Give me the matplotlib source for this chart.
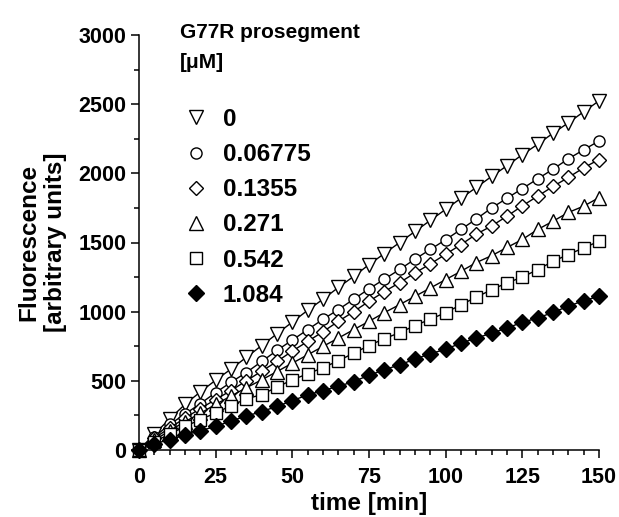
import matplotlib
matplotlib.use("Agg")
import matplotlib.pyplot as plt
from matplotlib.lines import Line2D
from matplotlib.ticker import MultipleLocator

plt.rcParams['font.family'] = ['Liberation Sans', 'DejaVu Sans']
plt.rcParams['font.weight'] = 'bold'

time_min = [0, 5, 10, 15, 20, 25, 30, 35, 40, 45, 50, 55, 60, 65, 70, 75,
            80, 85, 90, 95, 100, 105, 110, 115, 120, 125, 130, 135, 140, 145, 150]

conc_0 = [0, 115, 225, 330, 420, 505, 585, 670, 755, 840, 925, 1010, 1090, 1175, 1255, 1340,
          1420, 1500, 1580, 1660, 1740, 1820, 1898, 1978, 2055, 2135, 2210, 2290, 2365, 2445, 2524]
conc_006775 = [0, 95, 185, 260, 335, 415, 490, 560, 640, 720, 795, 870, 945, 1015, 1090, 1165,
               1235, 1305, 1380, 1450, 1520, 1595, 1670, 1750, 1820, 1890, 1960, 2030, 2105, 2170, 2234]
conc_01355 = [0, 85, 160, 230, 300, 365, 430, 500, 570, 640, 715, 785, 855, 930, 1000, 1075,
              1145, 1210, 1280, 1345, 1415, 1485, 1560, 1620, 1690, 1765, 1835, 1905, 1970, 2040, 2100]
conc_0271 = [0, 70, 140, 205, 265, 330, 390, 450, 507, 567, 628, 688, 749, 809, 870, 930,
             993, 1051, 1111, 1171, 1232, 1292, 1355, 1405, 1464, 1522, 1594, 1654, 1717, 1763, 1824]
conc_0542 = [0, 60, 115, 170, 220, 268, 320, 370, 400, 455, 507, 551, 595, 645, 700, 755,
             805, 848, 900, 945, 993, 1050, 1105, 1159, 1208, 1250, 1304, 1364, 1413, 1461, 1509]
conc_1084 = [0, 45, 75, 108, 140, 170, 210, 245, 278, 315, 357, 398, 430, 460, 495, 540,
             580, 616, 657, 696, 728, 773, 809, 845, 882, 923, 954, 995, 1039, 1080, 1110]

labels = ["0", "0.06775", "0.1355", "0.271", "0.542", "1.084"]
series = [conc_0, conc_006775, conc_01355, conc_0271, conc_0542, conc_1084]
markers = ["v", "o", "D", "^", "s", "D"]
msizes = [9.5, 8, 7.5, 9.5, 8, 8]
faces = ["white", "white", "white", "white", "white", "black"]

W, H = 619, 517
fig = plt.figure(figsize=(W / 100, H / 100), dpi=100)
ax = fig.add_axes([139 / W, 1 - 450 / H, 460 / W, 415 / H])

for ys, m, ms, fc in zip(series, markers, msizes, faces):
    ax.plot(time_min, ys, color="black", lw=1.0, marker=m, ms=ms,
            mfc=fc, mec="black", mew=1.0, clip_on=False, zorder=3)

ax.set_xlim(0, 150)
ax.set_ylim(0, 3000)
ax.xaxis.set_major_locator(MultipleLocator(25))
ax.xaxis.set_minor_locator(MultipleLocator(5))
ax.yaxis.set_major_locator(MultipleLocator(500))
ax.yaxis.set_minor_locator(MultipleLocator(250))
for s in ["top", "right"]:
    ax.spines[s].set_visible(False)
for s in ["left", "bottom"]:
    ax.spines[s].set_linewidth(1.1)
ax.tick_params(which="major", length=6, width=1.1, labelsize=15.5, direction="out")
ax.tick_params(which="minor", length=3.5, width=1.1, direction="out")
ax.tick_params(axis="x", which="major", pad=6)
ax.tick_params(axis="y", which="major", pad=3)
for lab in ax.get_xticklabels() + ax.get_yticklabels():
    lab.set_fontweight("bold")

ax.set_xlabel("time [min]", fontsize=17.5, fontweight="bold", labelpad=3)
ax.set_ylabel("Fluorescence\n[arbitrary units]", fontsize=17.5, fontweight="bold", labelpad=8)

fig.text(180 / W, 1 - 32 / H, "G77R prosegment", fontsize=15, fontweight="bold",
         ha="left", va="center")
fig.text(180 / W, 1 - 63 / H, "[\u03bcM]", fontsize=15, fontweight="bold",
         ha="left", va="center")

handles = [Line2D([], [], linestyle="none", marker=m, ms=ms, mfc=fc, mec="black", mew=1.0,
                  color="black")
           for m, ms, fc in zip(markers, msizes, faces)]
leg = fig.legend(handles, labels, loc="upper left", bbox_to_anchor=(184 / W, 1 - 108 / H),
                 frameon=False, borderpad=0, borderaxespad=0, handlelength=1.0,
                 handletextpad=0.6, labelspacing=0.5,
                 prop={"size": 17.5, "weight": "bold"})

fig.savefig("out.png", dpi=100)
